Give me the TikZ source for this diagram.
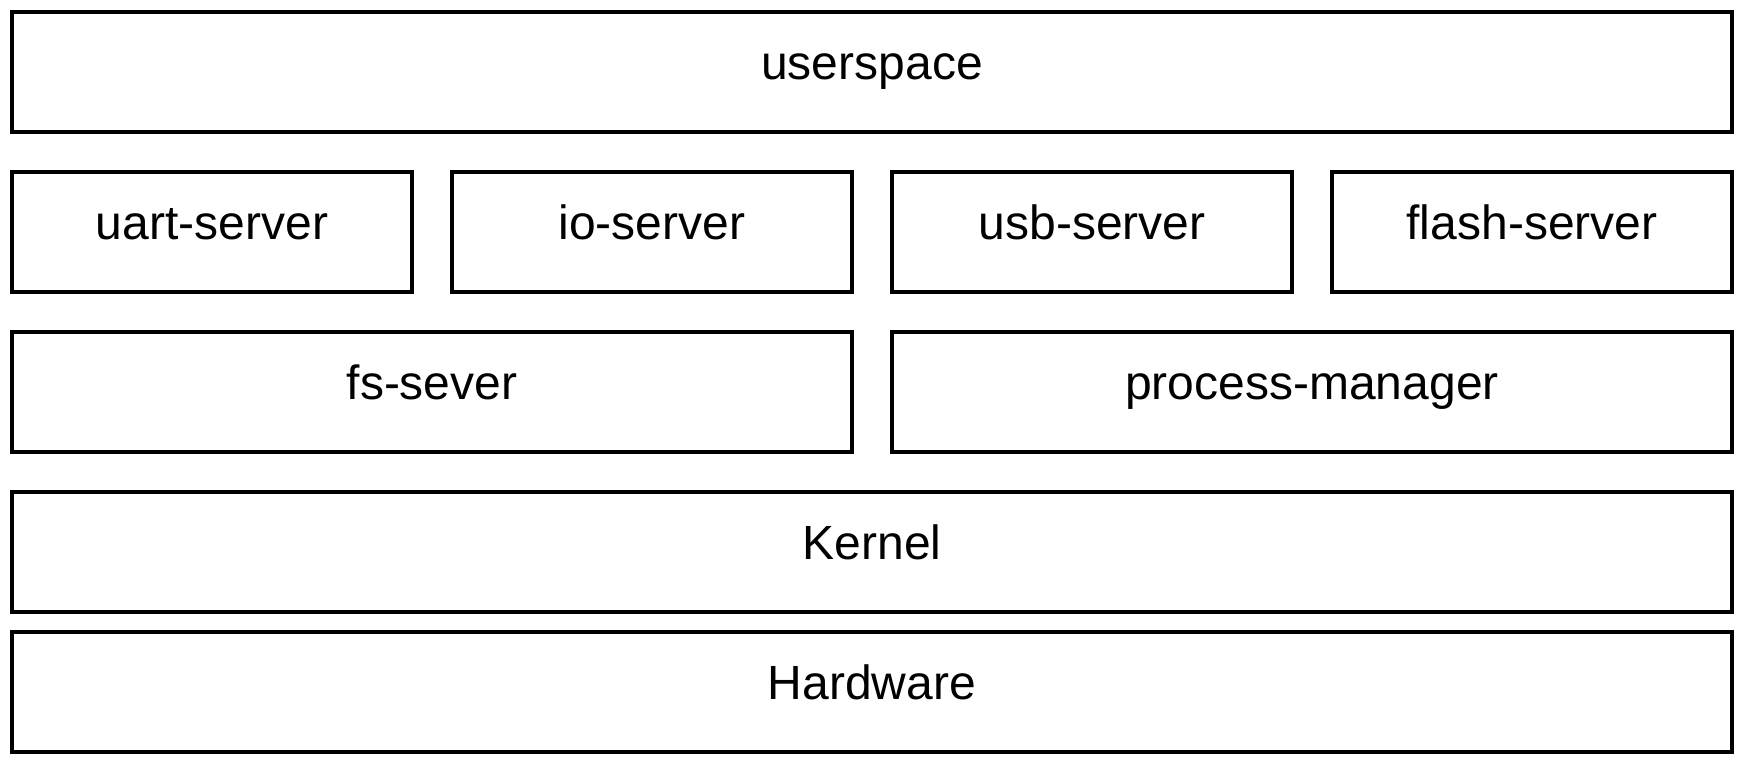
\documentclass[tikz,border=0pt]{standalone}
\usepackage{fontspec}
\setmainfont{Liberation Sans}
\begin{document}
\begin{tikzpicture}[x=1pt,y=1pt,
  layer/.style={draw=black,line width=4pt,fill=white,rectangle,inner sep=0pt,
    minimum height=120pt,text height=25pt,text depth=10pt,font=\fontsize{48}{58}\selectfont},
  small/.style={layer,minimum width=400pt},
  half/.style={layer,minimum width=840pt},
  full/.style={layer,minimum width=1720pt}]
\useasboundingbox (0,0) rectangle (1740,-760);
\node[full] (user) at (872,-72) {userspace};
\node[small] (uart) at (212,-232) {uart-server};
\node[small] (io) at (652,-232) {io-server};
\node[small] (usb) at (1092,-232) {usb-server};
\node[small] (flash) at (1532,-232) {flash-server};
\node[half] (fs) at (432,-392) {fs-sever};
\node[half] (pm) at (1312,-392) {process-manager};
\node[full] (kernel) at (872,-552) {Kernel};
\node[full] (hw) at (872,-692) {Hardware};
\end{tikzpicture}
\end{document}
